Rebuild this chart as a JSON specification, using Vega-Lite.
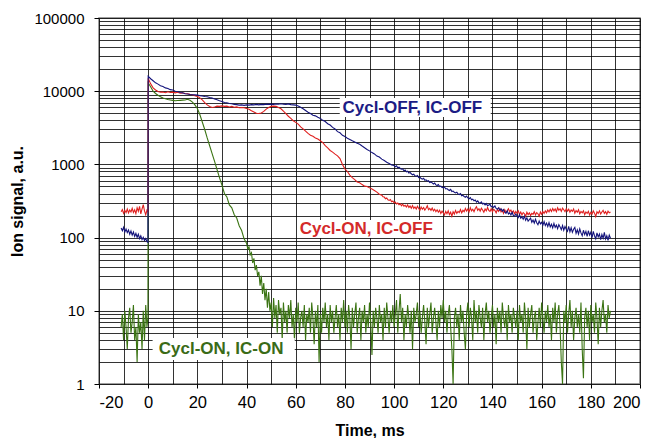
{
  "$schema": "https://vega.github.io/schema/vega-lite/v6.json",
  "width": 541,
  "height": 366,
  "autosize": "none",
  "padding": {"left": 99, "top": 18, "right": 16, "bottom": 54},
  "background": "white",
  "config": {
    "font": "Liberation Sans",
    "view": {"stroke": "#808080", "strokeWidth": 1.5},
    "axis": {
      "domain": false,
      "grid": true,
      "gridColor": "#000000",
      "gridOpacity": 0.8,
      "gridWidth": 1,
      "tickColor": "#000000",
      "labelColor": "#000000",
      "titleColor": "#000000",
      "labelFont": "Liberation Sans",
      "titleFont": "Liberation Sans",
      "titleFontWeight": "bold"
    },
    "axisX": {"labelFontSize": 16.5, "tickSize": 4, "labelPadding": 6, "titleFontSize": 16, "titlePadding": 12},
    "axisY": {"labelFontSize": 15, "tickSize": 5, "labelPadding": 10, "titleFontSize": 16, "titlePadding": 8}
  },
  "encoding": {
    "x": {
      "field": "t", "type": "quantitative",
      "scale": {"domain": [-20, 200], "nice": false, "zero": false},
      "axis": {
        "title": "Time, ms",
        "values": [-20,-10,0,10,20,30,40,50,60,70,80,90,100,110,120,130,140,150,160,170,180,190,200],
        "labelExpr": "datum.value % 20 == 0 ? '' + datum.value : ''",
        "tickOpacity": {"condition": {"test": "datum.value % 20 == 0", "value": 1}, "value": 0}
      }
    },
    "y": {
      "field": "v", "type": "quantitative",
      "scale": {"type": "log", "domain": [1, 100000], "nice": false},
      "axis": {
        "title": "Ion signal, a.u.",
        "values": [1,2,3,4,5,6,7,8,9,10,20,30,40,50,60,70,80,90,100,200,300,400,500,600,700,800,900,1000,2000,3000,4000,5000,6000,7000,8000,9000,10000,20000,30000,40000,50000,60000,70000,80000,90000,100000],
        "labelExpr": "indexof([1,10,100,1000,10000,100000], datum.value) >= 0 ? '' + datum.value : ''",
        "tickOpacity": {"condition": {"test": "indexof([1,10,100,1000,10000,100000], datum.value) >= 0", "value": 1}, "value": 0}
      }
    }
  },
  "datasets": {
    "green": [
      {"t":-11,"v":6},{"t":-10.5,"v":9},{"t":-10,"v":4},{"t":-9.5,"v":10},{"t":-9,"v":6},{"t":-8.5,"v":3},{"t":-8,"v":8},{"t":-7.5,"v":11},{"t":-7,"v":5},{"t":-6.5,"v":7},
      {"t":-6,"v":12},{"t":-5.5,"v":4},{"t":-5,"v":6},{"t":-4.5,"v":2},{"t":-4,"v":9},{"t":-3.5,"v":5},{"t":-3,"v":7},{"t":-2.5,"v":3},{"t":-2,"v":10},{"t":-1.5,"v":4},{"t":-1,"v":12},{"t":-0.5,"v":6},{"t":-0.1,"v":8},
      {"t":0,"v":13000},{"t":1,"v":11500},{"t":2,"v":10000},{"t":3,"v":9300},{"t":4,"v":8800},{"t":5,"v":8400},{"t":6,"v":8100},{"t":7,"v":7900},{"t":8,"v":7700},{"t":9,"v":7600},
      {"t":10,"v":7500},{"t":11,"v":7400},{"t":12,"v":7450},{"t":13,"v":7500},{"t":14,"v":7550},{"t":15,"v":7600},{"t":16,"v":7750},{"t":17,"v":7500},{"t":18,"v":7100},{"t":19,"v":6500},
      {"t":20,"v":5800},{"t":21,"v":4800},{"t":22,"v":3800},{"t":23,"v":3000},{"t":24,"v":2300},{"t":25,"v":1800},{"t":26,"v":1400},{"t":27,"v":1100},{"t":28,"v":850},{"t":29,"v":660},
      {"t":30,"v":520},{"t":31,"v":400},{"t":32,"v":360},{"t":33,"v":280},{"t":34,"v":255},{"t":35,"v":205},{"t":36,"v":185},{"t":37,"v":145},{"t":38,"v":125},{"t":39,"v":96},
      {"t":40,"v":84},{"t":40.5,"v":70},{"t":41,"v":75},{"t":41.5,"v":58},{"t":42,"v":62},{"t":42.5,"v":45},{"t":43,"v":52},{"t":43.5,"v":36},{"t":44,"v":42},{"t":44.5,"v":30},
      {"t":45,"v":34},{"t":45.5,"v":22},{"t":46,"v":30},{"t":46.5,"v":17},{"t":47,"v":24},{"t":47.5,"v":14},{"t":48,"v":20},{"t":48.5,"v":11},{"t":49,"v":18},{"t":49.5,"v":10},
      {"t":50,"v":13},{"t":50.5,"v":6},{"t":51,"v":15},{"t":51.5,"v":8},{"t":52,"v":12},{"t":52.5,"v":5},{"t":53,"v":14},{"t":53.5,"v":9},{"t":54,"v":11},{"t":54.5,"v":4},
      {"t":55,"v":13},{"t":55.5,"v":7},{"t":56,"v":10},{"t":56.5,"v":5},{"t":57,"v":12},{"t":57.5,"v":8},{"t":58,"v":14},{"t":58.5,"v":6},{"t":59,"v":9},{"t":59.5,"v":4},
      {"t":60,"v":11},{"t":60.5,"v":7},{"t":61,"v":13},{"t":61.5,"v":5},{"t":62,"v":8},{"t":62.5,"v":10},{"t":63,"v":6},{"t":63.5,"v":12},{"t":64,"v":4},{"t":64.5,"v":9},
      {"t":65,"v":7},{"t":65.5,"v":11},{"t":66,"v":5},{"t":66.5,"v":13},{"t":67,"v":8},{"t":67.5,"v":3.5},{"t":68,"v":10},{"t":68.5,"v":6},{"t":69,"v":12},{"t":69.5,"v":2},
      {"t":70,"v":9},{"t":70.5,"v":5},{"t":71,"v":11},{"t":71.5,"v":7},{"t":72,"v":13},{"t":72.5,"v":6},{"t":73,"v":9},{"t":73.5,"v":4},{"t":74,"v":12},{"t":74.5,"v":7},
      {"t":75,"v":10},{"t":75.5,"v":5},{"t":76,"v":8},{"t":76.5,"v":12},{"t":77,"v":6},{"t":77.5,"v":9},{"t":78,"v":4},{"t":78.5,"v":11},{"t":79,"v":7},{"t":79.5,"v":14},
      {"t":80,"v":6},{"t":80.5,"v":10},{"t":81,"v":5},{"t":81.5,"v":12},{"t":82,"v":8},{"t":82.5,"v":3},{"t":83,"v":11},{"t":83.5,"v":6},{"t":84,"v":9},{"t":84.5,"v":13},
      {"t":85,"v":5},{"t":85.5,"v":8},{"t":86,"v":11},{"t":86.5,"v":4},{"t":87,"v":10},{"t":87.5,"v":7},{"t":88,"v":12},{"t":88.5,"v":5},{"t":89,"v":9},{"t":89.5,"v":6},
      {"t":90,"v":13},{"t":90.5,"v":7},{"t":91,"v":2.5},{"t":91.5,"v":10},{"t":92,"v":6},{"t":92.5,"v":11},{"t":93,"v":8},{"t":93.5,"v":5},{"t":94,"v":12},{"t":94.5,"v":7},
      {"t":95,"v":9},{"t":95.5,"v":4},{"t":96,"v":11},{"t":96.5,"v":6},{"t":97,"v":13},{"t":97.5,"v":8},{"t":98,"v":5},{"t":98.5,"v":10},{"t":99,"v":7},{"t":99.5,"v":12},
      {"t":100,"v":6},{"t":100.5,"v":9},{"t":101,"v":14},{"t":101.5,"v":5},{"t":102,"v":10},{"t":102.5,"v":17},{"t":103,"v":7},{"t":103.5,"v":11},{"t":104,"v":4},{"t":104.5,"v":9},
      {"t":105,"v":6},{"t":105.5,"v":12},{"t":106,"v":8},{"t":106.5,"v":5},{"t":107,"v":10},{"t":107.5,"v":3},{"t":108,"v":11},{"t":108.5,"v":7},{"t":109,"v":9},{"t":109.5,"v":13},
      {"t":110,"v":6},{"t":110.5,"v":10},{"t":111,"v":5},{"t":111.5,"v":8},{"t":112,"v":12},{"t":112.5,"v":7},{"t":113,"v":3.5},{"t":113.5,"v":11},{"t":114,"v":6},{"t":114.5,"v":9},
      {"t":115,"v":13},{"t":115.5,"v":5},{"t":116,"v":8},{"t":116.5,"v":11},{"t":117,"v":7},{"t":117.5,"v":4},{"t":118,"v":10},{"t":118.5,"v":6},{"t":119,"v":12},{"t":119.5,"v":8},
      {"t":120,"v":14},{"t":120.5,"v":7},{"t":121,"v":10},{"t":121.5,"v":5},{"t":122,"v":9},{"t":122.5,"v":12},{"t":123,"v":6},{"t":123.5,"v":3},{"t":124,"v":1},{"t":124.5,"v":8},
      {"t":125,"v":11},{"t":125.5,"v":6},{"t":126,"v":9},{"t":126.5,"v":4},{"t":127,"v":12},{"t":127.5,"v":7},{"t":128,"v":10},{"t":128.5,"v":5},{"t":129,"v":3},{"t":129.5,"v":9},
      {"t":130,"v":13},{"t":130.5,"v":6},{"t":131,"v":11},{"t":131.5,"v":8},{"t":132,"v":4},{"t":132.5,"v":14},{"t":133,"v":7},{"t":133.5,"v":10},{"t":134,"v":5},{"t":134.5,"v":12},
      {"t":135,"v":8},{"t":135.5,"v":6},{"t":136,"v":11},{"t":136.5,"v":4},{"t":137,"v":9},{"t":137.5,"v":13},{"t":138,"v":7},{"t":138.5,"v":10},{"t":139,"v":5},{"t":139.5,"v":8},
      {"t":140,"v":12},{"t":140.5,"v":6},{"t":141,"v":9},{"t":141.5,"v":3.5},{"t":142,"v":11},{"t":142.5,"v":7},{"t":143,"v":10},{"t":143.5,"v":5},{"t":144,"v":13},{"t":144.5,"v":8},
      {"t":145,"v":6},{"t":145.5,"v":10},{"t":146,"v":4},{"t":146.5,"v":12},{"t":147,"v":7},{"t":147.5,"v":9},{"t":148,"v":5},{"t":148.5,"v":11},{"t":149,"v":8},{"t":149.5,"v":6},
      {"t":150,"v":10},{"t":150.5,"v":4},{"t":151,"v":12},{"t":151.5,"v":7},{"t":152,"v":9},{"t":152.5,"v":5},{"t":153,"v":13},{"t":153.5,"v":8},{"t":154,"v":3},{"t":154.5,"v":11},
      {"t":155,"v":6},{"t":155.5,"v":9},{"t":156,"v":12},{"t":156.5,"v":5},{"t":157,"v":8},{"t":157.5,"v":10},{"t":158,"v":4},{"t":158.5,"v":7},{"t":159,"v":11},{"t":159.5,"v":6},
      {"t":160,"v":13},{"t":160.5,"v":8},{"t":161,"v":5},{"t":161.5,"v":10},{"t":162,"v":7},{"t":162.5,"v":12},{"t":163,"v":6},{"t":163.5,"v":9},{"t":164,"v":4},{"t":164.5,"v":11},
      {"t":165,"v":7},{"t":165.5,"v":13},{"t":166,"v":5},{"t":166.5,"v":9},{"t":167,"v":12},{"t":167.5,"v":6},{"t":168,"v":2},{"t":168.5,"v":1},{"t":169,"v":10},{"t":169.5,"v":7},
      {"t":170,"v":12},{"t":170.5,"v":5},{"t":171,"v":9},{"t":171.5,"v":14},{"t":172,"v":6},{"t":172.5,"v":10},{"t":173,"v":4},{"t":173.5,"v":8},{"t":174,"v":11},{"t":174.5,"v":6},
      {"t":175,"v":9},{"t":175.5,"v":5},{"t":176,"v":13},{"t":176.5,"v":3},{"t":177,"v":1.2},{"t":177.5,"v":8},{"t":178,"v":11},{"t":178.5,"v":6},{"t":179,"v":10},{"t":179.5,"v":4},
      {"t":180,"v":12},{"t":180.5,"v":7},{"t":181,"v":9},{"t":181.5,"v":5},{"t":182,"v":13},{"t":182.5,"v":8},{"t":183,"v":3.5},{"t":183.5,"v":11},{"t":184,"v":6},{"t":184.5,"v":10},
      {"t":185,"v":14},{"t":185.5,"v":7},{"t":186,"v":9},{"t":186.5,"v":5},{"t":187,"v":12},{"t":187.5,"v":8},{"t":188,"v":10}
    ],
    "red": [
      {"t":-11,"v":225},{"t":-10.5,"v":241},{"t":-10,"v":214},{"t":-9.5,"v":236},{"t":-9,"v":219},{"t":-8.5,"v":246},{"t":-8,"v":217},{"t":-7.5,"v":238},{"t":-7,"v":224},{"t":-6.5,"v":251},
      {"t":-6,"v":221},{"t":-5.5,"v":240},{"t":-5,"v":213},{"t":-4.5,"v":256},{"t":-4,"v":229},{"t":-3.5,"v":268},{"t":-3,"v":211},{"t":-2.5,"v":246},{"t":-2,"v":282},{"t":-1.5,"v":232},{"t":-1,"v":205},{"t":-0.5,"v":238},{"t":-0.1,"v":226},
      {"t":0,"v":15000},{"t":1,"v":12600},{"t":2,"v":11100},{"t":3,"v":10400},{"t":4,"v":9900},{"t":5,"v":9700},{"t":6,"v":9750},{"t":7,"v":9550},{"t":8,"v":9800},{"t":9,"v":9600},
      {"t":10,"v":9700},{"t":11,"v":9500},{"t":12,"v":9650},{"t":13,"v":9400},{"t":14,"v":9500},{"t":15,"v":9300},{"t":16,"v":9250},{"t":17,"v":9050},{"t":18,"v":8950},{"t":19,"v":8700},
      {"t":20,"v":8500},{"t":21,"v":8100},{"t":22,"v":7600},{"t":23,"v":7000},{"t":24,"v":6500},{"t":25,"v":6200},{"t":26,"v":6000},{"t":27,"v":6100},{"t":28,"v":6250},{"t":29,"v":6200},
      {"t":30,"v":6300},{"t":31,"v":6200},{"t":32,"v":6250},{"t":33,"v":6100},{"t":34,"v":6200},{"t":35,"v":6050},{"t":36,"v":6100},{"t":37,"v":5950},{"t":38,"v":6000},{"t":39,"v":5950},
      {"t":40,"v":5800},{"t":41,"v":5650},{"t":42,"v":5400},{"t":43,"v":5200},{"t":44,"v":5000},{"t":45,"v":4950},{"t":46,"v":5050},{"t":47,"v":5300},{"t":48,"v":5700},{"t":49,"v":6000},
      {"t":50,"v":6200},{"t":51,"v":6250},{"t":52,"v":6200},{"t":53,"v":6000},{"t":54,"v":5750},{"t":55,"v":5350},{"t":56,"v":4950},{"t":57,"v":4550},{"t":58,"v":4250},{"t":59,"v":3950},
      {"t":60,"v":3750},{"t":61,"v":3550},{"t":62,"v":3250},{"t":63,"v":3050},{"t":64,"v":2850},{"t":65,"v":2650},{"t":66,"v":2500},{"t":67,"v":2420},{"t":68,"v":2300},{"t":69,"v":2220},
      {"t":70,"v":2100},{"t":71,"v":1980},{"t":72,"v":1800},{"t":73,"v":1680},{"t":74,"v":1550},{"t":75,"v":1470},{"t":76,"v":1380},{"t":77,"v":1310},{"t":78,"v":1200},{"t":79,"v":1000},
      {"t":80,"v":870},{"t":81,"v":800},{"t":82,"v":715},{"t":83,"v":660},{"t":84,"v":620},{"t":85,"v":575},{"t":86,"v":560},{"t":87,"v":530},{"t":88,"v":505},{"t":89,"v":500},
      {"t":90,"v":478},{"t":91,"v":462},{"t":92,"v":440},{"t":93,"v":418},{"t":94,"v":392},
      {"t":95,"v":380},{"t":95.5,"v":362},{"t":96,"v":358},{"t":96.5,"v":340},{"t":97,"v":348},{"t":97.5,"v":328},{"t":98,"v":322},{"t":98.5,"v":330},{"t":99,"v":308},{"t":99.5,"v":316},
      {"t":100,"v":298},{"t":100.5,"v":306},{"t":101,"v":288},{"t":101.5,"v":296},{"t":102,"v":282},{"t":102.5,"v":290},{"t":103,"v":272},{"t":103.5,"v":286},{"t":104,"v":268},{"t":104.5,"v":276},
      {"t":105,"v":262},{"t":105.5,"v":280},{"t":106,"v":258},{"t":106.5,"v":270},{"t":107,"v":252},{"t":107.5,"v":274},{"t":108,"v":250},{"t":108.5,"v":262},{"t":109,"v":246},{"t":109.5,"v":268},
      {"t":110,"v":250},{"t":110.5,"v":236},{"t":111,"v":262},{"t":111.5,"v":244},{"t":112,"v":258},{"t":112.5,"v":238},{"t":113,"v":252},{"t":113.5,"v":272},{"t":114,"v":240},{"t":114.5,"v":250},
      {"t":115,"v":236},{"t":115.5,"v":254},{"t":116,"v":232},{"t":116.5,"v":244},{"t":117,"v":226},{"t":117.5,"v":240},{"t":118,"v":222},{"t":118.5,"v":236},{"t":119,"v":214},{"t":119.5,"v":230},
      {"t":120,"v":218},{"t":120.5,"v":204},{"t":121,"v":228},{"t":121.5,"v":212},{"t":122,"v":232},{"t":122.5,"v":206},{"t":123,"v":222},{"t":123.5,"v":196},{"t":124,"v":226},{"t":124.5,"v":210},
      {"t":125,"v":234},{"t":125.5,"v":214},{"t":126,"v":228},{"t":126.5,"v":220},{"t":127,"v":242},{"t":127.5,"v":218},{"t":128,"v":236},{"t":128.5,"v":226},{"t":129,"v":250},{"t":129.5,"v":230},
      {"t":130,"v":246},{"t":130.5,"v":224},{"t":131,"v":256},{"t":131.5,"v":232},{"t":132,"v":244},{"t":132.5,"v":226},{"t":133,"v":250},{"t":133.5,"v":264},{"t":134,"v":236},{"t":134.5,"v":248},
      {"t":135,"v":230},{"t":135.5,"v":252},{"t":136,"v":238},{"t":136.5,"v":222},{"t":137,"v":246},{"t":137.5,"v":232},{"t":138,"v":258},{"t":138.5,"v":236},{"t":139,"v":228},{"t":139.5,"v":248},
      {"t":140,"v":226},{"t":140.5,"v":244},{"t":141,"v":234},{"t":141.5,"v":218},{"t":142,"v":242},{"t":142.5,"v":228},{"t":143,"v":250},{"t":143.5,"v":224},{"t":144,"v":236},{"t":144.5,"v":214},
      {"t":145,"v":240},{"t":145.5,"v":222},{"t":146,"v":232},{"t":146.5,"v":248},{"t":147,"v":226},{"t":147.5,"v":238},{"t":148,"v":218},{"t":148.5,"v":232},{"t":149,"v":212},{"t":149.5,"v":228},
      {"t":150,"v":214},{"t":150.5,"v":232},{"t":151,"v":208},{"t":151.5,"v":224},{"t":152,"v":204},{"t":152.5,"v":220},{"t":153,"v":212},{"t":153.5,"v":196},{"t":154,"v":222},{"t":154.5,"v":206},
      {"t":155,"v":218},{"t":155.5,"v":200},{"t":156,"v":214},{"t":156.5,"v":208},{"t":157,"v":226},{"t":157.5,"v":204},{"t":158,"v":220},{"t":158.5,"v":212},{"t":159,"v":196},{"t":159.5,"v":224},
      {"t":160,"v":208},{"t":160.5,"v":226},{"t":161,"v":214},{"t":161.5,"v":232},{"t":162,"v":218},{"t":162.5,"v":238},{"t":163,"v":224},{"t":163.5,"v":244},{"t":164,"v":228},{"t":164.5,"v":250},
      {"t":165,"v":232},{"t":165.5,"v":246},{"t":166,"v":226},{"t":166.5,"v":256},{"t":167,"v":236},{"t":167.5,"v":248},{"t":168,"v":228},{"t":168.5,"v":252},{"t":169,"v":240},{"t":169.5,"v":226},
      {"t":170,"v":248},{"t":170.5,"v":230},{"t":171,"v":244},{"t":171.5,"v":222},{"t":172,"v":238},{"t":172.5,"v":228},{"t":173,"v":246},{"t":173.5,"v":216},{"t":174,"v":234},{"t":174.5,"v":222},
      {"t":175,"v":240},{"t":175.5,"v":212},{"t":176,"v":228},{"t":176.5,"v":218},{"t":177,"v":232},{"t":177.5,"v":206},{"t":178,"v":224},{"t":178.5,"v":214},{"t":179,"v":228},{"t":179.5,"v":204},
      {"t":180,"v":222},{"t":180.5,"v":210},{"t":181,"v":232},{"t":181.5,"v":216},{"t":182,"v":194},{"t":182.5,"v":226},{"t":183,"v":214},{"t":183.5,"v":232},{"t":184,"v":210},{"t":184.5,"v":224},
      {"t":185,"v":236},{"t":185.5,"v":214},{"t":186,"v":226},{"t":186.5,"v":208},{"t":187,"v":230},{"t":187.5,"v":218},{"t":188,"v":224}
    ],
    "blue": [
      {"t":-11,"v":135},{"t":-10.5,"v":124},{"t":-10,"v":138},{"t":-9.5,"v":119},{"t":-9,"v":131},{"t":-8.5,"v":117},{"t":-8,"v":127},{"t":-7.5,"v":111},{"t":-7,"v":123},{"t":-6.5,"v":108},
      {"t":-6,"v":119},{"t":-5.5,"v":104},{"t":-5,"v":114},{"t":-4.5,"v":101},{"t":-4,"v":111},{"t":-3.5,"v":97},{"t":-3,"v":106},{"t":-2.5,"v":94},{"t":-2,"v":101},{"t":-1.5,"v":91},{"t":-1,"v":97},{"t":-0.5,"v":88},{"t":-0.1,"v":86},
      {"t":0,"v":16000},{"t":1,"v":14800},{"t":2,"v":13900},{"t":3,"v":13000},{"t":4,"v":12500},{"t":5,"v":11900},{"t":6,"v":11600},{"t":7,"v":11100},{"t":8,"v":10900},{"t":9,"v":10500},
      {"t":10,"v":10400},{"t":11,"v":10000},{"t":12,"v":9900},{"t":13,"v":9600},{"t":14,"v":9500},{"t":15,"v":9250},{"t":16,"v":9150},{"t":17,"v":9000},{"t":18,"v":8950},{"t":19,"v":8900},
      {"t":20,"v":8850},{"t":21,"v":8700},{"t":22,"v":8600},{"t":23,"v":8450},{"t":24,"v":8400},{"t":25,"v":8200},{"t":26,"v":8050},{"t":27,"v":7800},{"t":28,"v":7650},{"t":29,"v":7400},
      {"t":30,"v":7250},{"t":31,"v":7000},{"t":32,"v":6950},{"t":33,"v":6800},{"t":34,"v":6750},{"t":35,"v":6600},{"t":36,"v":6550},{"t":37,"v":6450},{"t":38,"v":6500},{"t":39,"v":6400},
      {"t":40,"v":6500},{"t":41,"v":6450},{"t":42,"v":6550},{"t":43,"v":6500},{"t":44,"v":6600},{"t":45,"v":6500},{"t":46,"v":6600},{"t":47,"v":6550},{"t":48,"v":6650},{"t":49,"v":6600},
      {"t":50,"v":6650},{"t":51,"v":6600},{"t":52,"v":6700},{"t":53,"v":6650},{"t":54,"v":6750},{"t":55,"v":6650},{"t":56,"v":6600},{"t":57,"v":6700},{"t":58,"v":6550},{"t":59,"v":6500},
      {"t":60,"v":6450},{"t":61,"v":6300},{"t":62,"v":6050},{"t":63,"v":5750},{"t":64,"v":5450},{"t":65,"v":5150},{"t":66,"v":4950},{"t":67,"v":4700},{"t":68,"v":4600},{"t":69,"v":4400},
      {"t":70,"v":4250},{"t":71,"v":4000},{"t":72,"v":3850},{"t":73,"v":3600},{"t":74,"v":3450},{"t":75,"v":3200},{"t":76,"v":3050},{"t":77,"v":2800},{"t":78,"v":2700},{"t":79,"v":2500},
      {"t":80,"v":2400},{"t":81,"v":2280},{"t":82,"v":2190},{"t":83,"v":2100},{"t":84,"v":2030},{"t":85,"v":1950},{"t":86,"v":1880},{"t":87,"v":1780},{"t":88,"v":1690},{"t":89,"v":1600},
      {"t":90,"v":1530},{"t":91,"v":1450},{"t":92,"v":1390},{"t":93,"v":1300},{"t":94,"v":1260},{"t":95,"v":1180},{"t":96,"v":1130},{"t":97,"v":1070},{"t":98,"v":1030},{"t":99,"v":985},
      {"t":100,"v":965},{"t":100.5,"v":930},{"t":101,"v":955},{"t":101.5,"v":900},{"t":102,"v":915},{"t":102.5,"v":880},{"t":103,"v":860},{"t":103.5,"v":870},{"t":104,"v":820},{"t":104.5,"v":840},
      {"t":105,"v":790},{"t":105.5,"v":805},{"t":106,"v":760},{"t":106.5,"v":775},{"t":107,"v":745},{"t":107.5,"v":720},{"t":108,"v":735},{"t":108.5,"v":700},{"t":109,"v":690},{"t":109.5,"v":705},
      {"t":110,"v":660},{"t":110.5,"v":670},{"t":111,"v":640},{"t":111.5,"v":628},{"t":112,"v":645},{"t":112.5,"v":605},{"t":113,"v":615},{"t":113.5,"v":590},{"t":114,"v":600},{"t":114.5,"v":565},
      {"t":115,"v":575},{"t":115.5,"v":560},{"t":116,"v":540},{"t":116.5,"v":555},{"t":117,"v":525},{"t":117.5,"v":515},{"t":118,"v":530},{"t":118.5,"v":498},{"t":119,"v":505},{"t":119.5,"v":485},
      {"t":120,"v":480},{"t":120.5,"v":492},{"t":121,"v":462},{"t":121.5,"v":468},{"t":122,"v":450},{"t":122.5,"v":440},{"t":123,"v":455},{"t":123.5,"v":425},{"t":124,"v":432},{"t":124.5,"v":415},
      {"t":125,"v":408},{"t":125.5,"v":418},{"t":126,"v":395},{"t":126.5,"v":388},{"t":127,"v":400},{"t":127.5,"v":372},{"t":128,"v":378},{"t":128.5,"v":365},{"t":129,"v":356},{"t":129.5,"v":368},
      {"t":130,"v":348},{"t":130.5,"v":340},{"t":131,"v":352},{"t":131.5,"v":328},{"t":132,"v":334},{"t":132.5,"v":318},{"t":133,"v":326},{"t":133.5,"v":306},{"t":134,"v":318},{"t":134.5,"v":300},
      {"t":135,"v":296},{"t":135.5,"v":308},{"t":136,"v":288},{"t":136.5,"v":294},{"t":137,"v":280},{"t":137.5,"v":292},{"t":138,"v":272},{"t":138.5,"v":278},{"t":139,"v":286},{"t":139.5,"v":264},
      {"t":140,"v":268},{"t":140.5,"v":258},{"t":141,"v":272},{"t":141.5,"v":250},{"t":142,"v":244},{"t":142.5,"v":256},{"t":143,"v":236},{"t":143.5,"v":248},{"t":144,"v":230},{"t":144.5,"v":242},
      {"t":145,"v":222},{"t":145.5,"v":215},{"t":146,"v":232},{"t":146.5,"v":210},{"t":147,"v":218},{"t":147.5,"v":204},{"t":148,"v":222},{"t":148.5,"v":200},{"t":149,"v":196},{"t":149.5,"v":210},
      {"t":150,"v":198},{"t":150.5,"v":188},{"t":151,"v":206},{"t":151.5,"v":184},{"t":152,"v":192},{"t":152.5,"v":178},{"t":153,"v":196},{"t":153.5,"v":172},{"t":154,"v":186},{"t":154.5,"v":168},
      {"t":155,"v":176},{"t":155.5,"v":184},{"t":156,"v":162},{"t":156.5,"v":174},{"t":157,"v":158},{"t":157.5,"v":178},{"t":158,"v":160},{"t":158.5,"v":150},{"t":159,"v":168},{"t":159.5,"v":154},
      {"t":160,"v":162},{"t":160.5,"v":148},{"t":161,"v":166},{"t":161.5,"v":146},{"t":162,"v":158},{"t":162.5,"v":142},{"t":163,"v":160},{"t":163.5,"v":140},{"t":164,"v":152},{"t":164.5,"v":136},
      {"t":165,"v":156},{"t":165.5,"v":138},{"t":166,"v":148},{"t":166.5,"v":132},{"t":167,"v":150},{"t":167.5,"v":140},{"t":168,"v":128},{"t":168.5,"v":146},{"t":169,"v":126},{"t":169.5,"v":142},
      {"t":170,"v":130},{"t":170.5,"v":122},{"t":171,"v":142},{"t":171.5,"v":120},{"t":172,"v":136},{"t":172.5,"v":118},{"t":173,"v":130},{"t":173.5,"v":138},{"t":174,"v":114},{"t":174.5,"v":128},
      {"t":175,"v":112},{"t":175.5,"v":132},{"t":176,"v":116},{"t":176.5,"v":106},{"t":177,"v":126},{"t":177.5,"v":110},{"t":178,"v":122},{"t":178.5,"v":104},{"t":179,"v":124},{"t":179.5,"v":108},
      {"t":180,"v":118},{"t":180.5,"v":100},{"t":181,"v":122},{"t":181.5,"v":106},{"t":182,"v":96},{"t":182.5,"v":116},{"t":183,"v":102},{"t":183.5,"v":112},{"t":184,"v":94},{"t":184.5,"v":110},
      {"t":185,"v":98},{"t":185.5,"v":118},{"t":186,"v":96},{"t":186.5,"v":106},{"t":187,"v":92},{"t":187.5,"v":108},{"t":188,"v":98}
    ],
    "labels": [
      {"label":"Cycl-OFF, IC-OFF","t":79,"v":5985,"t1":77.9,"t2":139.3,"v1":4440,"v2":8070},
      {"label":"Cycl-ON, IC-OFF","t":61.6,"v":131,"t1":60.7,"t2":117.6,"v1":99,"v2":174},
      {"label":"Cycl-ON, IC-ON","t":4.3,"v":3.0,"t1":1.8,"t2":59.6,"v1":2.13,"v2":4.25}
    ]
  },
  "layer": [
    {"data": {"name": "green"}, "mark": {"type": "line", "color": "#3b7413", "strokeWidth": 1.1}},
    {"data": {"name": "red"}, "mark": {"type": "line", "color": "#e0201f", "strokeWidth": 1.1}},
    {"data": {"name": "blue"}, "mark": {"type": "line", "color": "#14147c", "strokeWidth": 1.1}},
    {
      "data": {"name": "labels"},
      "mark": {"type": "rect", "fill": "white"},
      "encoding": {
        "x": {"field": "t1", "type": "quantitative", "scale": {"domain": [-20, 200], "nice": false, "zero": false}},
        "x2": {"field": "t2"},
        "y": {"field": "v1", "type": "quantitative", "scale": {"type": "log", "domain": [1, 100000], "nice": false}},
        "y2": {"field": "v2"}
      }
    },
    {
      "data": {"name": "labels"},
      "mark": {"type": "text", "align": "left", "baseline": "middle", "fontSize": 17, "fontWeight": "bold", "font": "Liberation Sans"},
      "encoding": {
        "text": {"field": "label"},
        "color": {
          "field": "label", "type": "nominal",
          "scale": {"domain": ["Cycl-OFF, IC-OFF", "Cycl-ON, IC-OFF", "Cycl-ON, IC-ON"], "range": ["#1c1c84", "#d42a2a", "#3a6b17"]},
          "legend": null
        }
      }
    }
  ]
}
